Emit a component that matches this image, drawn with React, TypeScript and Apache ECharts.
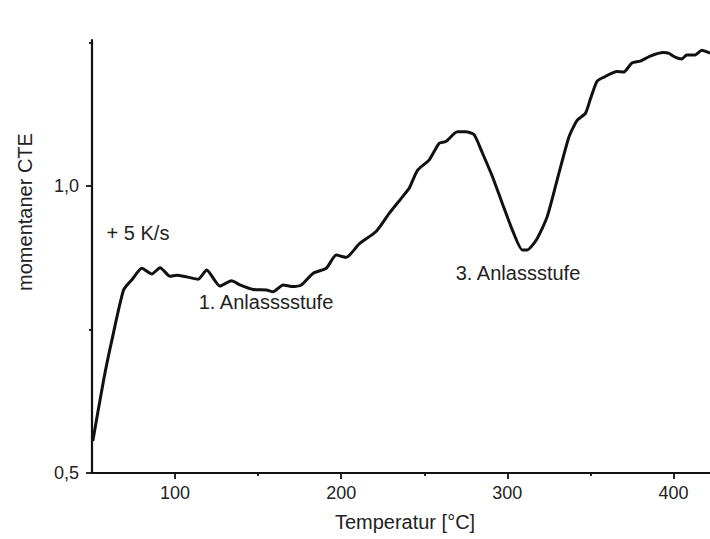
import React, { useEffect, useRef } from "react";
import * as echarts from "echarts";

// Temperature [°C]
const temps = [
  50.5, 57, 62, 69, 74, 80, 86, 91, 97, 101, 107, 114, 119, 127, 134, 139, 147,
  155, 159, 165, 171, 176, 183, 191, 197, 203, 211, 221, 229, 237, 241, 246,
  253, 259, 263, 270, 275, 280, 285, 291, 297, 303, 309, 312, 318, 324, 330,
  337, 342, 347, 350, 354, 358, 366, 370, 375, 380, 386, 394, 397, 401, 405,
  408, 413, 417, 422,
];
// momentaner CTE
const cte = [
  0.556, 0.662, 0.732, 0.819, 0.837, 0.857, 0.847, 0.858, 0.843, 0.845, 0.842,
  0.838, 0.854, 0.826, 0.835, 0.828, 0.82, 0.819, 0.816, 0.828, 0.825, 0.828,
  0.848, 0.857, 0.88, 0.876, 0.9, 0.921, 0.953, 0.982, 0.997, 1.028, 1.046,
  1.075, 1.078, 1.095, 1.095, 1.09, 1.058, 1.017, 0.97, 0.924, 0.889, 0.889,
  0.909, 0.947, 1.011, 1.085, 1.115, 1.127, 1.152, 1.183, 1.19, 1.2, 1.199,
  1.215, 1.218, 1.227, 1.233, 1.232, 1.225, 1.222, 1.229, 1.229, 1.237, 1.232,
];

const xMajorTicks = [100, 200, 300, 400];
const xMinorTicks = [150, 250, 350];
const yMajorTicks = [0.5, 1.0];
const yMinorTicks = [0.75, 1.25];

const annotations = [
  { text: "+ 5 K/s", x: 138, y: 233 },
  { text: "1. Anlasssstufe", x: 266, y: 302 },
  { text: "3. Anlassstufe", x: 518, y: 273 },
];

const FONT = "'Liberation Sans', Arial, Helvetica, sans-serif";

export default function App() {
  const ref = useRef<HTMLDivElement>(null);

  useEffect(() => {
    if (!ref.current) return;
    const chart = echarts.init(ref.current, null, { renderer: "svg" });
    const data = temps.map((t, i) => [t, cte[i]]);
    const axisColor = "#111";
    const xBase = {
      type: "value",
      min: 50,
      max: 422,
      position: "bottom",
      splitLine: { show: false },
    };
    const yBase = {
      type: "value",
      min: 0.5,
      max: 1.255,
      position: "left",
      splitLine: { show: false },
    };
    chart.setOption({
      animation: false,
      backgroundColor: "#fff",
      grid: {
        left: 92,
        right: 0,
        top: 40,
        bottom: 66,
        containLabel: false,
        outerBoundsMode: "none",
      },
      xAxis: [
        {
          ...xBase,
          axisLine: { show: true, lineStyle: { color: axisColor, width: 2.2 } },
          axisTick: {
            show: true,
            customValues: xMajorTicks,
            length: 6,
            lineStyle: { color: axisColor, width: 1.8 },
          },
          axisLabel: {
            customValues: xMajorTicks,
            fontSize: 18,
            fontFamily: FONT,
            color: "#222",
            margin: 11,
          },
        },
        {
          ...xBase,
          axisLine: { show: false },
          axisTick: {
            show: true,
            customValues: xMinorTicks,
            length: 3,
            lineStyle: { color: axisColor, width: 1.8 },
          },
          axisLabel: { show: false },
        },
      ],
      yAxis: [
        {
          ...yBase,
          axisLine: { show: true, lineStyle: { color: axisColor, width: 2.2 } },
          axisTick: {
            show: true,
            customValues: yMajorTicks,
            length: 6,
            lineStyle: { color: axisColor, width: 1.8 },
          },
          axisLabel: {
            customValues: yMajorTicks,
            fontSize: 18,
            fontFamily: FONT,
            color: "#222",
            margin: 13,
            formatter: (v: number) => v.toFixed(1).replace(".", ","),
          },
        },
        {
          ...yBase,
          axisLine: { show: false },
          axisTick: {
            show: true,
            customValues: yMinorTicks,
            length: 3,
            lineStyle: { color: axisColor, width: 1.8 },
          },
          axisLabel: { show: false },
        },
      ],
      graphic: [
        {
          type: "text",
          x: 405,
          y: 522,
          style: {
            text: "Temperatur [°C]",
            fontSize: 20,
            fontFamily: FONT,
            fill: "#222",
            align: "center",
            verticalAlign: "middle",
          },
        },
        {
          type: "text",
          x: 25,
          y: 212,
          rotation: Math.PI / 2,
          style: {
            text: "momentaner CTE",
            fontSize: 20,
            fontFamily: FONT,
            fill: "#222",
            align: "center",
            verticalAlign: "middle",
          },
        },
        ...annotations.map((a) => ({
          type: "text",
          x: a.x,
          y: a.y,
          style: {
            text: a.text,
            fontSize: 20,
            fontFamily: FONT,
            fill: "#222",
            align: "center",
            verticalAlign: "middle",
          },
        })),
      ],
      series: [
        {
          type: "line",
          data,
          xAxisIndex: 0,
          yAxisIndex: 0,
          showSymbol: false,
          smooth: 0.2,
          clip: false,
          lineStyle: { color: "#111", width: 3 },
        },
      ],
    });
    return () => chart.dispose();
  }, []);

  return (
    <div
      ref={ref}
      style={{ position: "absolute", left: 0, top: 0, width: 710, height: 539 }}
    />
  );
}
